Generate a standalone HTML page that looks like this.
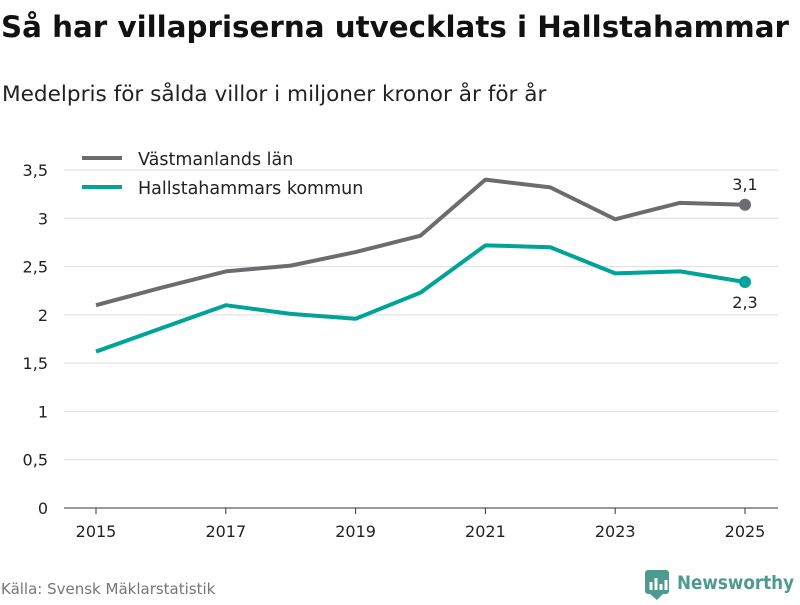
<!DOCTYPE html>
<html><head><meta charset="utf-8"><style>
body{margin:0;background:#fff;font-family:"Liberation Sans","DejaVu Sans",sans-serif;}
svg text{font-family:"DejaVu Sans","Liberation Sans",sans-serif;}
</style></head><body>
<svg id="c" width="800" height="600">
<text x="1" y="37" font-size="29.5" font-weight="bold" fill="#111" textLength="788" lengthAdjust="spacingAndGlyphs">Så har villapriserna utvecklats i Hallstahammar</text>
<text x="2" y="101" font-size="21.6" fill="#222">Medelpris för sålda villor i miljoner kronor år för år</text>
<g id="grid"></g><g id="lines"></g>
<g>
<line x1="82" y1="158" x2="122" y2="158" stroke="#6d6b70" stroke-width="4"/>
<text x="138" y="165" font-size="17.5" fill="#222">Västmanlands län</text>
<line x1="82" y1="187" x2="122" y2="187" stroke="#00a398" stroke-width="4"/>
<text x="138" y="194" font-size="17.5" fill="#222">Hallstahammars kommun</text>
</g>
<text x="1" y="594" font-size="15" fill="#777">Källa: Svensk Mäklarstatistik</text>
<g>
<rect x="645" y="570" width="24" height="24" rx="3" fill="#4e9a8e"/>
<path d="M651 590v-8M656 590v-12M661 590v-6M666 590v-10" stroke="#fff" stroke-width="3"/>
<path d="M650 594l7 6 6-6z" fill="#4e9a8e"/>
<text x="677" y="589" font-size="19" font-weight="bold" fill="#4e9a8e" textLength="117" lengthAdjust="spacingAndGlyphs">Newsworthy</text>
</g>
</svg>
<script>
const years=[2015,2016,2017,2018,2019,2020,2021,2022,2023,2024,2025];
const vastmanland=[2.10,2.28,2.45,2.51,2.65,2.82,3.40,3.32,2.99,3.16,3.14];
const hallstahammar=[1.62,1.86,2.10,2.01,1.96,2.23,2.72,2.70,2.43,2.45,2.34];
const yTicks=[0,0.5,1,1.5,2,2.5,3,3.5];
const yTickLabels=["0","0,5","1","1,5","2","2,5","3","3,5"];
const xTicks=[2015,2017,2019,2021,2023,2025];
const endLabels=["3,1","2,3"];
const NS="http://www.w3.org/2000/svg";
const xs=y=>96+(y-2015)*64.9;
const ys=v=>508-v*96.57;
function mk(t,a,p){const e=document.createElementNS(NS,t);for(const k in a)e.setAttribute(k,a[k]);p.appendChild(e);return e;}
const g=document.getElementById('grid'),L=document.getElementById('lines');
yTicks.forEach((v,i)=>{
 const l=mk('line',{x1:64,x2:778,y1:ys(v),y2:ys(v),stroke:v===0?'#333':'#ddd','stroke-width':1},g);
 
 
 const t=mk('text',{x:48,y:ys(v)+6,'font-size':16,fill:'#222','text-anchor':'end'},g);t.textContent=yTickLabels[i];
 
 
});
xTicks.forEach(y=>{
 const l=mk('line',{x1:xs(y),x2:xs(y),y1:508,y2:514,stroke:'#333'},g);
 
 
 const t=mk('text',{x:xs(y),y:537,'font-size':16,fill:'#222','text-anchor':'middle'},g);t.textContent=y;
 
 
});
[[vastmanland,'#6d6b70','vastmanland-line',-15],[hallstahammar,'#00a398','hallstahammar-line',26]].forEach((s,i)=>{
 const d=s[0].map((v,j)=>(j?'L':'M')+xs(years[j])+' '+ys(v)).join(' ');
 const p=mk('path',{d:d,fill:'none',stroke:s[1],'stroke-width':4,'stroke-linejoin':'round'},L);
 
 
 const n=s[0].length-1;
 const c=mk('circle',{cx:xs(years[n]),cy:ys(s[0][n]),r:6,fill:s[1]},L);
 
 
 const t=mk('text',{x:xs(years[n]),y:ys(s[0][n])+s[3],'font-size':16,fill:'#222','text-anchor':'middle'},L);
 t.textContent=endLabels[i];
 
 
});
</script>
</body></html>
